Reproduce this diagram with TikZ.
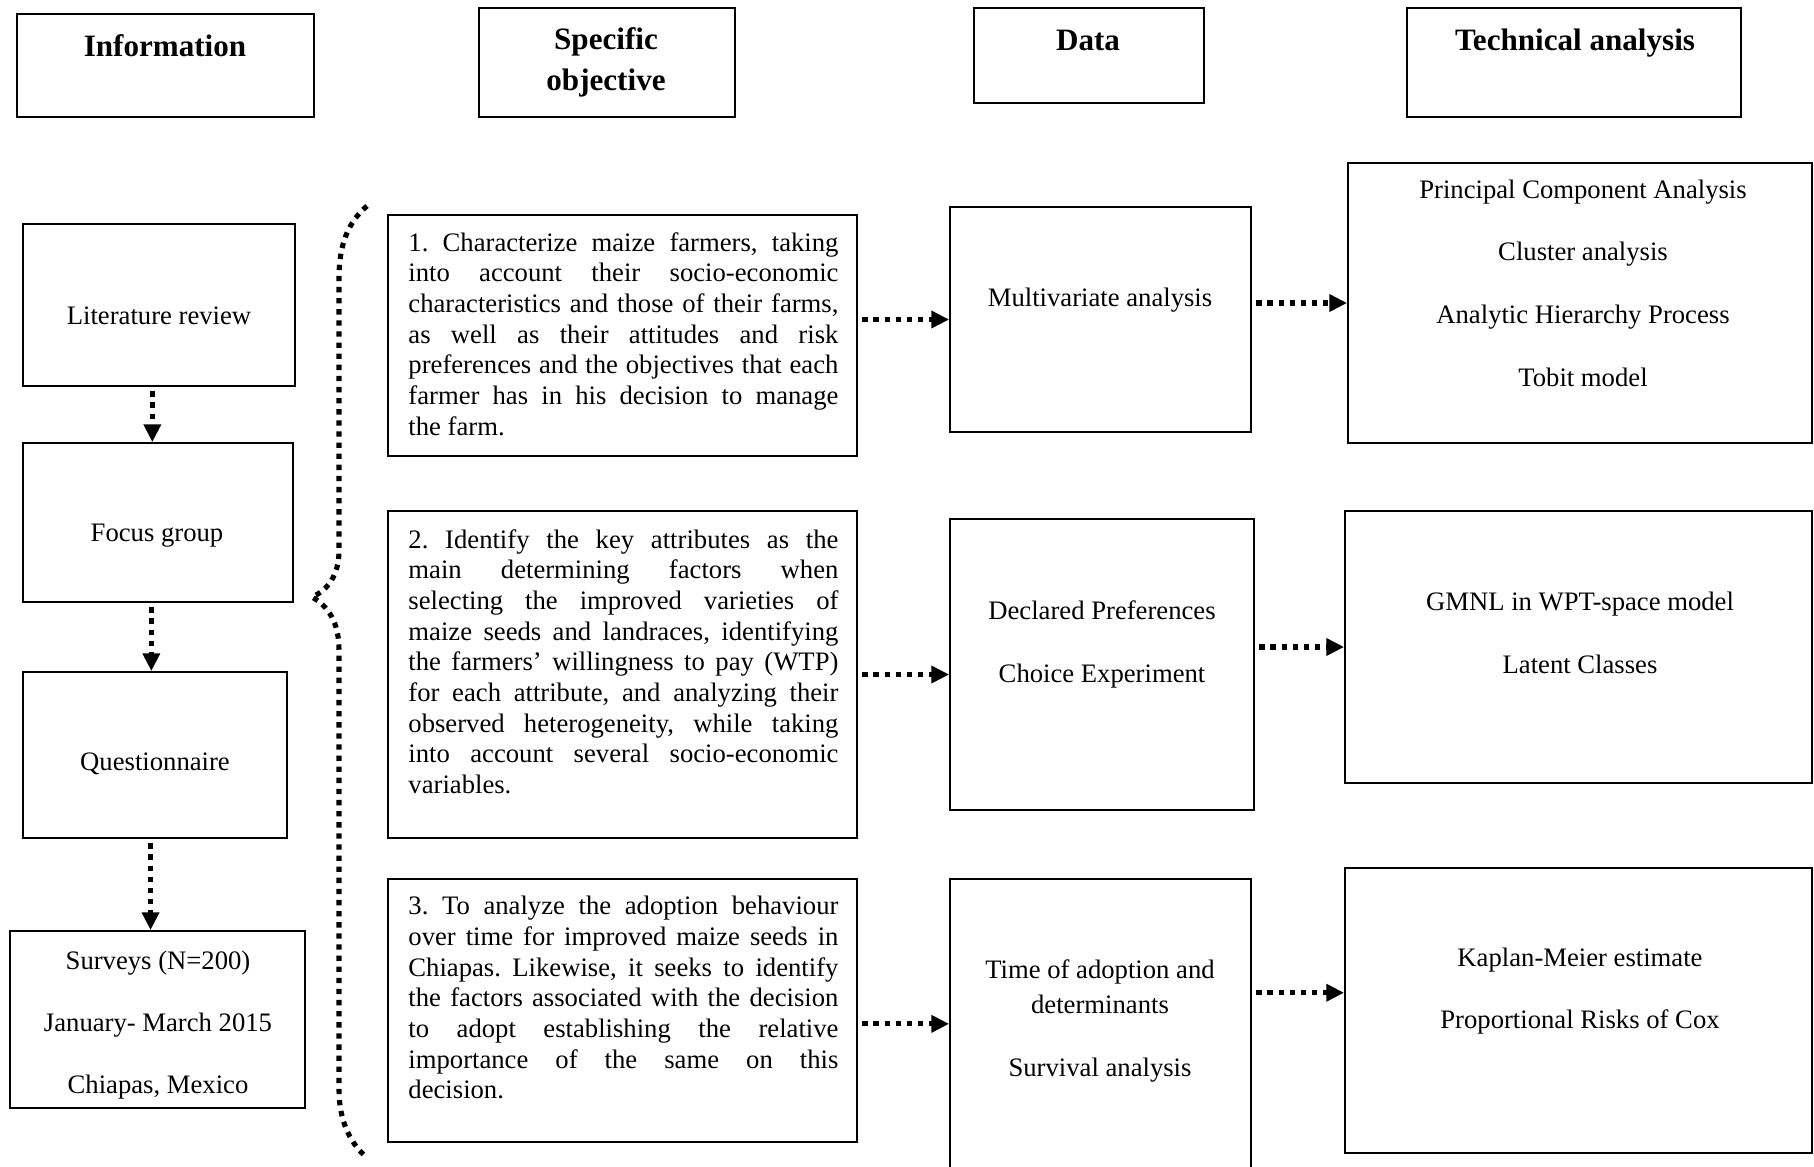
\documentclass[tikz,border=0pt]{standalone}
\usepackage{fontspec}
\setmainfont{Liberation Serif}
\usepackage{tikz}
\usetikzlibrary{arrows.meta, fit, calc}
\tolerance=10000
\frenchspacing

\tikzset{
  box/.style={draw=black, line width=0.8pt, inner sep=0pt},
  txt/.style={inner sep=0pt, align=center, font=\fontsize{12}{15.6}\selectfont},
  head/.style={inner sep=0pt, align=center, font=\bfseries\fontsize{14}{18.4}\selectfont},
  objtxt/.style={inner sep=0pt, anchor=north west, text width=193.5pt, align=justify,
                 font=\fontsize{12}{13.8}\selectfont},
  dotline/.style={line width=2.3pt, dash pattern=on 2.4pt off 2.6pt},
  arr/.style={dotline, -{Triangle[length=8pt,width=7.5pt]}, shorten <=2pt}
}

\begin{document}
\begin{tikzpicture}[x=0.45pt, y=-0.45pt]
\useasboundingbox (0,0) rectangle (1814,1166);

% column heads
\node[box, fit={(17,14) (314,117)}] (info) {};
\node[head] (infot) at (165,46) {Information};
\node[box, fit={(479,8) (735,117)}] (spec) {};
\node[head] (spect) at (606,62) {Specific\\objective};
\node[box, fit={(974,8) (1204,103)}] (data) {};
\node[head] (datat) at (1088,40) {Data};
\node[box, fit={(1407,8) (1741,117)}] (tech) {};
\node[head] (techt) at (1575,43) {Technical analysis};

% information
\node[box, fit={(23,224) (295,386)}] (lit) {};
\node[txt] (litt) at (159,316) {Literature review};
\node[box, fit={(23,443) (293,602)}] (focus) {};
\node[txt] (focust) at (157,536) {Focus group};
\node[box, fit={(23,672) (287,838)}] (quest) {};
\node[txt] (questt) at (155,764) {Questionnaire};
\node[box, fit={(10,931) (305,1108)}] (surv) {};
\node[txt, font=\fontsize{12}{28}\selectfont] (survt) at (158,1025)
    {Surveys (N=200)\\January- March 2015\\Chiapas, Mexico};

% objectives
\node[box, fit={(388,215) (857,456)}] (obj1) {};
\node[objtxt] (obj1t) at (408,232) {1. Characterize maize farmers, taking\linebreak
    into account their socio-economic\linebreak
    characteristics and those of their farms,\linebreak
    as well as their attitudes and risk\linebreak
    preferences and the objectives that each\linebreak
    farmer has in his decision to manage\linebreak
    the farm.};
\node[box, fit={(388,511) (857,838)}] (obj2) {};
\node[objtxt] (obj2t) at (408,529) {2. Identify the key attributes as the\linebreak
    main determining factors when\linebreak
    selecting the improved varieties of\linebreak
    maize seeds and landraces, identifying\linebreak
    the farmers' willingness to pay (WTP)\linebreak
    for each attribute, and analyzing their\linebreak
    observed heterogeneity, while taking\linebreak
    into account several socio-economic\linebreak
    variables.};
\node[box, fit={(388,879) (857,1142)}] (obj3) {};
\node[objtxt] (obj3t) at (408,896) {3. To analyze the adoption behaviour\linebreak
    over time for improved maize seeds in\linebreak
    Chiapas. Likewise, it seeks to identify\linebreak
    the factors associated with the decision\linebreak
    to adopt establishing the relative\linebreak
    importance of the same on this\linebreak
    decision.};

% data
\node[box, fit={(950,207) (1251,432)}] (multi) {};
\node[txt] (multit) at (1100,300) {Multivariate analysis};
\node[box, fit={(950,519) (1254,810)}] (decl) {};
\node[txt, font=\fontsize{12}{28.3}\selectfont] (declt) at (1102,644)
    {Declared Preferences\\Choice Experiment};
\node[box, fit={(950,879) (1251,1200)}] (time) {};
\node[txt] (timet) at (1100,1021) {Time of adoption and\\determinants\\[12.6pt]Survival analysis};

% technical analysis
\node[box, fit={(1348,163) (1812,443)}] (tech1) {};
\node[txt, font=\fontsize{12}{28.2}\selectfont] (tech1t) at (1583,283)
    {Principal Component Analysis\\Cluster analysis\\Analytic Hierarchy Process\\Tobit model};
\node[box, fit={(1345,511) (1812,783)}] (tech2) {};
\node[txt, font=\fontsize{12}{28.3}\selectfont] (tech2t) at (1580,633)
    {GMNL in WPT-space model\\Latent Classes};
\node[box, fit={(1345,868) (1812,1153)}] (tech3) {};
\node[txt, font=\fontsize{12}{28}\selectfont] (tech3t) at (1580,991)
    {Kaplan-Meier estimate\\Proportional Risks of Cox};

% arrows
\coordinate (o3out) at ([yshift=-6pt]obj3.east);
\coordinate (t3in) at ([yshift=8pt]tech3.west);
\draw[arr] ([xshift=-3pt]lit.south) -- ([xshift=-3pt]lit.south |- focus.north);
\draw[arr] ([xshift=-3pt]focus.south) -- ([xshift=-3pt]focus.south |- quest.north);
\draw[arr] ([xshift=-2pt]quest.south) -- ([xshift=-2pt]quest.south |- surv.north);
\draw[arr] (obj1.east |- multi.west) -- (multi.west);
\draw[arr] (obj2.east) -- (obj2.east -| decl.west);
\draw[arr] (o3out) -- (o3out -| time.west);
\draw[arr] (multi.east |- tech1.west) -- (tech1.west);
\draw[arr] (decl.east |- tech2.west) -- (tech2.west);
\draw[arr] (t3in -| time.east) -- (t3in);

% brace
\draw[dotline] (367,206) .. controls (348,222) and (339,245) .. (339,278) -- (339,550)
    .. controls (339,575) and (328,590) .. (312,597)
    .. controls (328,606) and (339,622) .. (339,650) -- (339,1090)
    .. controls (339,1120) and (350,1142) .. (364,1155);
\end{tikzpicture}
\end{document}
